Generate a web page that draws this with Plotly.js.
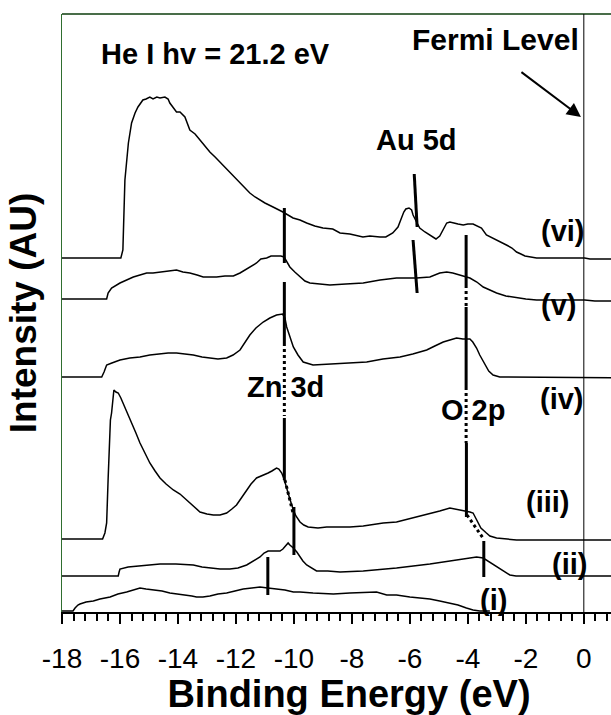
<!DOCTYPE html>
<html>
<head>
<meta charset="utf-8">
<script src="https://cdn.plot.ly/plotly-3.0.1.min.js"></script>
<style>
html, body { margin: 0; padding: 0; overflow: hidden; background: #ffffff; }
#chart { width: 640px; height: 715px; }
</style>
</head>
<body>
<div id="chart"></div>
<script>
// ---------- data (binding energy in eV, intensity in arbitrary units) ----------
const energyVI = [-18,-15.97,-15.9,-15.83,-15.71,-15.6,-15.48,-15.38,-15.21,-15.1,-14.97,-14.86,-14.73,-14.62,-14.45,-14.34,-14.28,-14.05,-13.93,-13.76,-13.59,-13.41,-13.24,-13.07,-12.9,-12.72,-12.55,-12.38,-12.21,-12.03,-11.86,-11.69,-11.52,-11.34,-11.17,-11.0,-10.72,-10.38,-10.03,-9.79,-9.56,-9.28,-9.0,-8.66,-8.41,-8.07,-7.62,-7.38,-7.03,-6.83,-6.59,-6.41,-6.29,-6.21,-6.14,-6.03,-5.94,-5.89,-5.77,-5.66,-5.48,-5.31,-5.1,-4.97,-4.86,-4.73,-4.62,-4.51,-4.34,-4.16,-4.0,-3.82,-3.66,-3.53,-3.36,-3.21,-3.01,-2.86,-2.67,-2.48,-2.32,-2.17,-2.03,-1.83,-1.63,0.03,0.21,1.8];
const intensityVI = [354,354,362,432,469,489,499,505,512,513,515,513,515,514,515,513,509,500,500,495,482,478,472,466,460,455,450,445,439,434,429,424,419,415,412,409,405,400,394,392,389,386,384,383,379,378,375,376,375,375,379,385,394,400,403,404,402,397,390,384,380,377,373,376,382,389,390,389,388,387,388,388,386,384,377,375,372,370,367,364,360,358,356,355,354,354,353,353];

const energyV = [-18,-16.46,-16.41,-16.29,-16.0,-15.79,-15.54,-15.31,-15.08,-14.86,-14.62,-14.34,-14.05,-13.83,-13.59,-13.34,-13.13,-12.9,-12.67,-12.38,-12.09,-11.86,-11.63,-11.45,-11.29,-11.14,-10.94,-10.79,-10.6,-10.45,-10.34,-10.24,-10.14,-9.97,-9.79,-9.62,-9.45,-9.1,-8.76,-8.21,-7.61,-7.03,-6.46,-5.77,-5.31,-4.97,-4.73,-4.52,-4.28,-3.93,-3.69,-3.47,-3.24,-3.01,-2.69,-2.32,-2.0,-1.63,0.03,0.38,1.8];
const intensityV = [313,313,319,324,329,332,335,337,339,339,340,341,342,340,339,337,335,335,335,336,336,339,343,346,349,353,354,356,356,356,355,350,345,340,335,331,329,328,327,328,329,332,334,334,335,339,340,339,337,334,330,325,322,319,316,314,313,312,312,311,311];

const energyIV = [-18,-16.63,-16.55,-16.46,-16.28,-16.0,-15.66,-15.31,-14.97,-14.62,-14.34,-14.05,-13.76,-13.47,-13.17,-12.9,-12.62,-12.32,-12.1,-11.86,-11.69,-11.52,-11.31,-11.06,-10.83,-10.6,-10.39,-10.31,-10.25,-10.14,-10.02,-9.86,-9.68,-9.34,-8.64,-8.07,-7.49,-6.93,-6.34,-5.9,-5.42,-5.14,-4.85,-4.62,-4.39,-4.17,-3.93,-3.83,-3.7,-3.59,-3.41,-3.28,-3.13,-2.9,-2.67,0.03,1.8];
const intensityIV = [235,235,240,247,249,252,254,255,257,258,259,259,258,257,255,254,253,254,257,262,269,277,284,290,294,297,298,294,285,275,265,257,250,247,248,249,250,253,255,258,262,266,270,272,274,273,273,270,264,257,247,241,237,235,235,234,234];

const energyIII = [-18,-16.6,-16.52,-16.46,-16.41,-16.37,-16.33,-16.29,-16.24,-16.21,-16.14,-16.06,-15.97,-15.83,-15.72,-15.6,-15.45,-15.31,-15.14,-14.97,-14.79,-14.62,-14.41,-14.16,-13.93,-13.7,-13.48,-13.24,-13.0,-12.78,-12.55,-12.32,-12.14,-11.98,-11.79,-11.63,-11.48,-11.29,-11.1,-10.89,-10.76,-10.6,-10.52,-10.42,-10.34,-10.25,-10.14,-10.02,-9.93,-9.79,-9.66,-9.51,-9.17,-8.87,-8.41,-8.07,-7.61,-6.92,-6.46,-5.77,-5.31,-4.97,-4.62,-4.45,-4.16,-3.93,-3.82,-3.7,-3.55,-3.36,-3.24,-3.01,-2.72,-2.32,0.03,1.8];
const intensityIII = [73,73,79,89,132,172,192,199,212,222,220,219,214,205,198,189,179,169,159,149,141,134,128,122,118,112,106,100,98,97,97,99,103,107,115,122,128,134,136,139,141,144,143,139,133,125,113,102,96,90,87,85,84,85,85,85,86,89,90,95,98,101,104,103,102,100,99,92,84,79,76,74,73,72,72,72];

const energyII = [-18,-16.06,-16.03,-16.0,-15.72,-15.42,-15.03,-14.62,-14.07,-13.47,-13.17,-12.9,-12.55,-12.21,-11.93,-11.63,-11.41,-11.17,-11.03,-10.89,-10.69,-10.48,-10.38,-10.28,-10.2,-10.14,-10.02,-9.9,-9.79,-9.69,-9.56,-9.41,-9.22,-8.83,-8.41,-7.61,-6.46,-5.31,-4.39,-3.93,-3.7,-3.47,-3.31,-3.13,-2.9,-2.69,-2.55,-2.34,0.03,1.8];
const intensityII = [36,36,40,43,45,46,47,48,48,47,45,44,43,43,44,47,51,55,59,61,61,61,63,67,69,67,64,60,55,51,47,44,41,41,40,41,44,48,52,54,55,54,51,47,43,39,37,36,36,36];

const energyI = [-18,-17.62,-17.55,-17.45,-17.38,-17.17,-16.92,-16.69,-16.34,-16.07,-15.77,-15.55,-15.31,-15.1,-14.85,-14.55,-14.28,-14.0,-13.7,-13.52,-13.36,-13.14,-12.9,-12.62,-12.32,-12.03,-11.75,-11.45,-11.17,-10.9,-10.6,-10.31,-10.02,-9.79,-9.34,-8.64,-8.07,-7.38,-7.15,-6.8,-6.46,-6.0,-5.31,-4.97,-4.62,-4.34,-4.05,-3.82,-3.59,-3.24];
const intensityI = [1,1,4,7,8,10,11,13,15,18,20,22,24,23,22,21,19,18,17,16,15,15,16,18,19,21,23,24,25,24,23,22,20,20,19,18,19,20,20,17,17,15,13,11,9,7,4,2,1,1];

// peak markers (solid and dotted guide segments, separated by null)
const zn3dSolidE = [-10.33,-10.33,null,-10.33,-10.33,null,-10.33,-10.33,null,-10.0,-10.0,null,-10.9,-10.9];
const zn3dSolidI = [404,349,null,330,269,null,194,132,null,105,57,null,55,17];
const zn3dDotE = [-10.33,-10.33,null,-10.31,-10.03];
const zn3dDotI = [269,196,null,132,99];

const o2pSolidE = [-4.06,-4.06,null,-4.06,-4.06,null,-4.05,-4.05,null,-3.45,-3.45];
const o2pSolidI = [377,327,null,305,225,null,169,95,null,71,35];
const o2pDotE = [-4.06,-4.06,null,-4.06,-4.06,null,-4.03,-3.48];
const o2pDotI = [327,305,null,225,169,null,97,74];

const au5dSolidE = [-5.85,-5.75,null,-5.89,-5.75];
const au5dSolidI = [438,385,null,372,319];

const fermiLevel = 0;
const tickValues = [-18,-16,-14,-12,-10,-8,-6,-4,-2,0];
const tickLabels = ['-18','-16','-14','-12','-10','-8','-6','-4','-2','0'];

// ---------- drawing ----------
const FONT = 'Liberation Sans, Arial, Helvetica, sans-serif';
function spectrum(x, y, name) {
  return {x: x, y: y, name: name, type: 'scatter', mode: 'lines',
          line: {color: '#000000', width: 1.5}, hoverinfo: 'skip', showlegend: false};
}
function guide(x, y, name, dotted) {
  return {x: x, y: y, name: name, type: 'scatter', mode: 'lines', connectgaps: false,
          line: {color: '#000000', width: 3, dash: dotted ? 'dot' : 'solid'},
          hoverinfo: 'skip', showlegend: false};
}

const traces = [
  spectrum(energyVI, intensityVI, '(vi)'),
  spectrum(energyV, intensityV, '(v)'),
  spectrum(energyIV, intensityIV, '(iv)'),
  spectrum(energyIII, intensityIII, '(iii)'),
  spectrum(energyII, intensityII, '(ii)'),
  spectrum(energyI, intensityI, '(i)'),
  guide(zn3dSolidE, zn3dSolidI, 'Zn 3d', false),
  guide(zn3dDotE, zn3dDotI, 'Zn 3d guide', true),
  guide(o2pSolidE, o2pSolidI, 'O 2p', false),
  guide(o2pDotE, o2pDotI, 'O 2p guide', true),
  guide(au5dSolidE, au5dSolidI, 'Au 5d', false)
];

function label(text, x, y, size) {
  return {text: text, x: x, y: y, xref: 'x', yref: 'y', showarrow: false,
          xanchor: 'center', yanchor: 'middle',
          font: {family: FONT, size: size || 29, color: '#000000', weight: 'bold'}};
}

const layout = {
  width: 640, height: 715,
  margin: {l: 62, r: 4, t: 14, b: 103},
  paper_bgcolor: '#ffffff', plot_bgcolor: '#ffffff',
  showlegend: false,
  xaxis: {
    range: [-18, 1.8],
    tickmode: 'array', tickvals: tickValues, ticktext: tickLabels,
    ticks: 'outside', ticklen: 10, tickwidth: 2, tickcolor: '#000000',
    ticklabelstandoff: 11,
    minor: {tickmode: 'linear', tick0: -18, dtick: 0.4, ticks: 'outside', ticklen: 7, tickwidth: 2, tickcolor: '#000000', showgrid: false},
    showline: true, linecolor: '#000000', linewidth: 1.5,
    showgrid: false, zeroline: false,
    tickfont: {family: FONT, size: 28, color: '#000000'},
    title: {text: 'Binding Energy (eV)', standoff: 14,
            font: {family: FONT, size: 38, color: '#000000', weight: 'bold'}}
  },
  yaxis: {
    range: [0, 598],
    showticklabels: false, ticks: '',
    showline: true, linecolor: '#2f6e2f', linewidth: 1.5,
    showgrid: false, zeroline: false,
    title: {text: 'Intensity (AU)', standoff: 12,
            font: {family: FONT, size: 37, color: '#000000', weight: 'bold'}}
  },
  shapes: [
    {type: 'line', xref: 'paper', yref: 'paper', x0: 0, x1: 1, y0: 1, y1: 1,
     line: {color: '#0c3c0c', width: 1.5}},
    {type: 'line', xref: 'x', yref: 'paper', x0: fermiLevel, x1: fermiLevel, y0: 0, y1: 1,
     line: {color: '#000000', width: 1}}
  ],
  annotations: [
    label('He I hv = 21.2 eV', -12.69, 558, 29),
    label('Fermi Level', -3.03, 573, 30),
    label('Au 5d', -5.76, 472, 29),
    label('(vi)', -0.72, 381),
    label('(v)', -0.86, 307),
    label('(iv)', -0.76, 213),
    label('Zn 3d', -10.28, 225),
    label('O 2p', -3.81, 202),
    label('(iii)', -1.24, 110),
    label('(ii)', -0.48, 48),
    label('(i)', -3.1, 12),
    {text: '', x: -0.10, y: 495, xref: 'x', yref: 'y', showarrow: true,
     ax: -61, ay: -46, arrowhead: 2, arrowsize: 1.4, arrowwidth: 2,
     arrowcolor: '#000000', standoff: 0}
  ]
};

Plotly.newPlot('chart', traces, layout, {staticPlot: true, displayModeBar: false});
</script>
</body>
</html>
